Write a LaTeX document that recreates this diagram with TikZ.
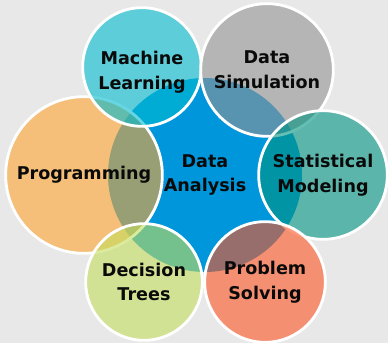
\documentclass[tikz,border=0pt]{standalone}
\usepackage{fontspec}
\setmainfont{DejaVu Sans}
\usepackage{xcolor}
\definecolor{bggray}{HTML}{E8E8E8}
\definecolor{coreblue}{HTML}{0096DB}
\definecolor{mlcyan}{RGB}{0,187,207}
\definecolor{simgray}{RGB}{147,147,147}
\definecolor{statteal}{RGB}{0,147,129}
\definecolor{probred}{RGB}{252,84,35}
\definecolor{treegreen}{RGB}{195,222,92}
\definecolor{progorange}{RGB}{254,165,49}
\definecolor{inktext}{HTML}{0A0A0A}

\tikzset{
  topic/.style={circle, draw=white, line width=2.4pt, fill opacity=0.6,
                draw opacity=1, text opacity=1, align=center, inner sep=0pt,
                text=inktext, font=\fontsize{15}{21.2}\selectfont\bfseries},
  topictext/.style={align=center, inner sep=0pt, text=inktext,
                font=\fontsize{15}{21.2}\selectfont\bfseries},
}

\begin{document}
\begin{tikzpicture}[x=0.03cm, y=-0.03cm]
      %\draw [dotted] (0,0) grid (388,343);
      \fill [bggray] (0,0) rectangle (388,343);
      \useasboundingbox (0,0) rectangle (388,343);
      \clip (0,0) rectangle (388,343);
      \node [topic, draw=none, fill=coreblue, fill opacity=1, minimum size=5.82cm] (core) at (205, 175) {Data\\Analysis};
      \node [topic, fill=progorange, minimum size=4.70cm] (prog) at ( 84, 175) {Programming};
      \node [topic, fill=mlcyan,     minimum size=3.56cm] (ml)   at (142,  67) {};
      \node [topictext]                                  (mlt)  at (142,  72) {Machine\\Learning};
      \node [topic, fill=simgray,    minimum size=3.98cm] (sim)  at (267,  70) {Data\\Simulation};
      \node [topic, fill=statteal,   minimum size=3.86cm] (stat) at (323, 175) {Statistical\\Modeling};
      \node [topic, fill=probred,    minimum size=3.62cm] (prob) at (265, 282) {Problem\\Solving};
      \node [topic, fill=treegreen,  minimum size=3.50cm] (tree) at (144, 282) {Decision\\Trees};
\end{tikzpicture}
\end{document}
